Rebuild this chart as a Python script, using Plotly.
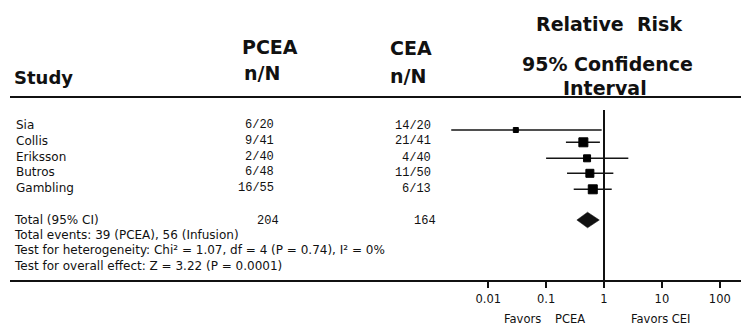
import plotly.graph_objects as go

# ---------------- data ----------------
studies = ["Sia", "Collis", "Eriksson", "Butros", "Gambling"]
pcea_nN = ["6/20", "9/41", "2/40", "6/48", "16/55"]
cea_nN = ["14/20", "21/41", "4/40", "11/50", "6/13"]
rr = [0.030, 0.44, 0.51, 0.57, 0.64]
rr_lo = [0.0023, 0.22, 0.10, 0.23, 0.30]
rr_hi = [0.91, 0.85, 2.63, 1.45, 1.36]
total_pcea = "204"
total_cea = "164"
pooled_est = 0.52
pooled_lo = 0.34
pooled_hi = 0.83
tick_vals = [0.01, 0.1, 1, 10, 100]
tick_text = ["0.01", "0.1", "1", "10", "100"]
footer_lines = [
    "Total events: 39 (PCEA), 56 (Infusion)",
    "Test for heterogeneity: Chi² = 1.07, df = 4 (P = 0.74), I² = 0%",
    "Test for overall effect: Z = 3.22 (P = 0.0001)",
]

# ---------------- layout constants ----------------
W, H = 741, 325
L, B = 10, 45
AXIS_Y = H - B  # 280
ONE_PX = 604.0
DEC_PX = 57.9
x_range = [(L - ONE_PX) / DEC_PX, (W - ONE_PX) / DEC_PX]

text_y = [125, 140.5, 156.5, 172, 187.5]
cea_y = [126, 141.3, 157.5, 173, 189]
mark_y = [130, 142.3, 158.3, 173.3, 189.3]
mark_size = [5, 9, 7, 8, 9]
total_y = 220
diamond_h = 7.8
footer_y = [234.5, 250, 266]

TXT = "#111111"
SANS = "DejaVu Sans"
MONO = "Liberation Mono"


def px(p):
    return (p - L) / (W - L)


fig = go.Figure()

# CI lines
cx, cy = [], []
for lo_, hi_, y_ in zip(rr_lo, rr_hi, mark_y):
    cx += [lo_, hi_, None]
    cy += [y_, y_, None]
fig.add_trace(go.Scatter(x=cx, y=cy, mode="lines",
                         line=dict(color="#151515", width=1.6),
                         hoverinfo="skip", showlegend=False))
# point estimates
fig.add_trace(go.Scatter(x=rr, y=mark_y, mode="markers",
                         marker=dict(symbol="square", size=mark_size, color="#000000",
                                     opacity=1, line=dict(width=1, color="#000000")),
                         showlegend=False))
# pooled diamond
fig.add_trace(go.Scatter(
    x=[pooled_lo, pooled_est, pooled_hi, pooled_est, pooled_lo],
    y=[total_y, total_y - diamond_h, total_y, total_y + diamond_h, total_y],
    mode="lines", fill="toself", fillcolor="#111111",
    line=dict(color="#111111", width=0.5), showlegend=False))

shapes = [
    # line of no effect
    dict(type="line", xref="x", yref="y", x0=1, x1=1, y0=110, y1=AXIS_Y,
         line=dict(color="#111111", width=2)),
    # header rule
    dict(type="line", xref="paper", yref="y", x0=0, x1=1, y0=97, y1=97,
         line=dict(color="#111111", width=2)),
]

ann = []


def add_text(text, x, y, size=12, family=SANS, anchor="left", bold=False, yref="y"):
    ann.append(dict(text=text, x=px(x), y=y, xref="paper", yref=yref,
                    xanchor=anchor, yanchor="middle", showarrow=False,
                    font=dict(family=family, size=size, color=TXT,
                              weight="bold" if bold else "normal")))


# headers
add_text("Study", 12, 77, size=18, bold=True)
add_text("PCEA", 240, 47, size=19, bold=True)
add_text("n/N", 242, 73, size=19, bold=True)
add_text("CEA", 388, 48, size=19, bold=True)
add_text("n/N", 388, 76, size=19, bold=True)
add_text("Relative&nbsp; Risk", 609, 24, size=19, bold=True, anchor="center")
add_text("95% Confidence", 607, 64, size=19, bold=True, anchor="center")
add_text("Interval", 605, 88, size=19, bold=True, anchor="center")

# study rows
for s, a, c, ty, cy_ in zip(studies, pcea_nN, cea_nN, text_y, cea_y):
    add_text(s, 14, ty)
    add_text(a, 276, ty, family=MONO, anchor="right")
    add_text(c, 433, cy_, family=MONO, anchor="right")

# totals
add_text("Total (95% CI)", 12, total_y - 0.5)
add_text(total_pcea, 281, total_y + 1, family=MONO, anchor="right")
add_text(total_cea, 438, total_y + 1, family=MONO, anchor="right")
for t, y_ in zip(footer_lines, footer_y):
    add_text(t, 12, y_)

# favours labels (below axis)
fav_y = (AXIS_Y - 318.5) / AXIS_Y
add_text("Favors", 502, fav_y, size=11.5, anchor="left", yref="paper")
add_text("PCEA", 553, fav_y, size=11.5, anchor="left", yref="paper")
add_text("Favors CEI", 661, fav_y, size=11.5, anchor="center", yref="paper")

fig.update_layout(
    width=W, height=H,
    margin=dict(l=L, r=0, t=0, b=B, pad=0),
    paper_bgcolor="white", plot_bgcolor="white",
    shapes=shapes, annotations=ann,
    xaxis=dict(type="log", range=x_range, showgrid=False, zeroline=False,
               showline=True, linecolor="#111111", linewidth=2,
               ticks="outside", ticklen=6, tickwidth=2, tickcolor="#111111",
               tickvals=tick_vals, ticktext=tick_text, ticklabelstandoff=1,
               tickfont=dict(family=SANS, size=11.5, color=TXT), fixedrange=True),
    yaxis=dict(range=[AXIS_Y, 0], visible=False, showgrid=False, zeroline=False,
               fixedrange=True),
    showlegend=False,
)

fig.write_html("out.html")
